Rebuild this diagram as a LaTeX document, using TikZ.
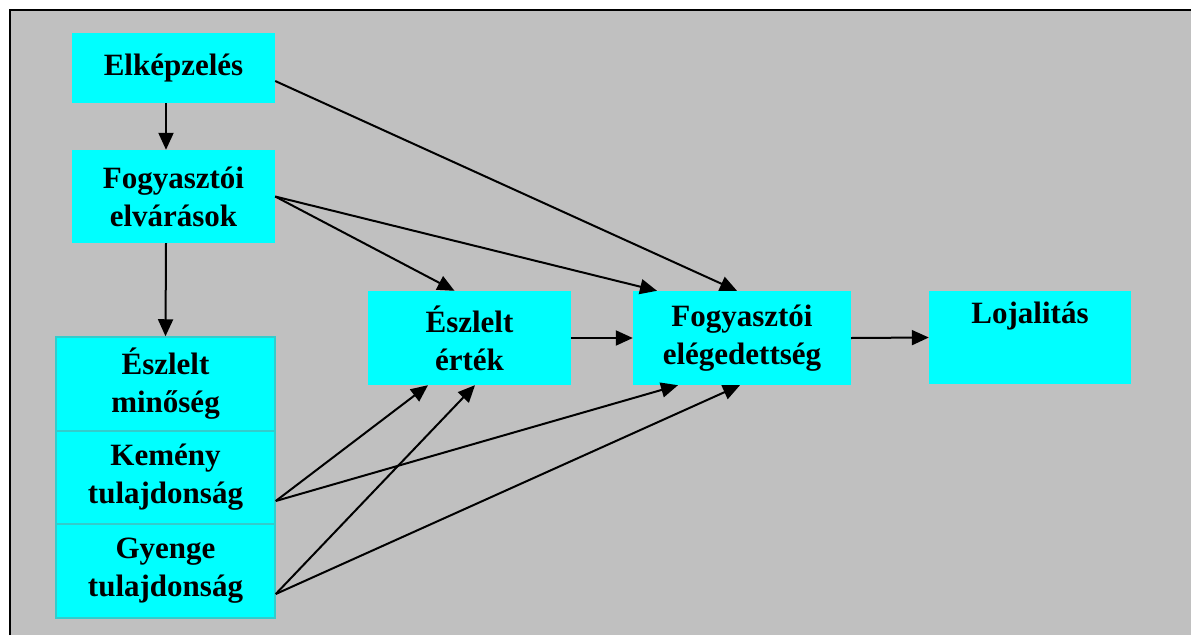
\documentclass[tikz,border=0pt]{standalone}
\usepackage{fontspec}
\setmainfont{Liberation Serif}
\usetikzlibrary{arrows.meta}
\definecolor{panel}{RGB}{192,192,192}
\definecolor{boxfill}{RGB}{0,255,255}
\definecolor{celledge}{RGB}{51,204,204}
\tikzset{
  box/.style={fill=boxfill, inner sep=0pt, align=center,
    font=\bfseries\fontsize{31}{38}\selectfont},
  cell/.style={box, draw=celledge, line width=1.5pt},
  link/.style={line width=2pt, -{Triangle[length=17pt,width=15pt]}},
}
\begin{document}
\begin{tikzpicture}[x=1pt,y=-1pt]
  \useasboundingbox (0,0) rectangle (1191,635);
  % grey panel with its top and left border
  \fill[panel] (10,10) rectangle (1191,635);
  \draw[line width=2.8pt] (10,635) -- (10,10) -- (1191,10);

  % boxes
  \node[box, minimum width=203pt, minimum height=70pt] (elk) at (173.5,68) {Elképzelés};
  \node[box, minimum width=203pt, minimum height=93pt] (elv) at (173.5,196.5) {Fogyasztói\\elvárások};
  \node[cell, minimum width=219pt, minimum height=94pt] (min) at (165.5,384) {Észlelt\\minőség};
  \node[cell, minimum width=219pt, minimum height=93pt] (kem) at (165.5,477.5) {Kemény\\tulajdonság};
  \node[cell, minimum width=219pt, minimum height=94pt] (gye) at (165.5,571) {Gyenge\\tulajdonság};
  \node[box, minimum width=203pt, minimum height=94pt] (ert) at (469.5,338) {Észlelt\\érték};
  \node[box, minimum width=218pt, minimum height=94pt] (ele) at (742,338) {Fogyasztói\\elégedettség};
  \node[box, minimum width=202pt, minimum height=93pt] (loj) at (1030,337.5) {Lojalitás\\\strut};

  % connectors
  \draw[link] ([xshift=-7.5pt]elk.south) -- ([xshift=-7.5pt]elv.north);
  \draw[link] ([xshift=-7.5pt]elv.south) -- (min.north);
  \draw[link] ([yshift=-13pt]elk.east) -- ([xshift=-5pt]ele.north);
  \draw[link] (elv.east) -- ([xshift=-15pt]ert.north);
  \draw[link] (elv.east) -- ([xshift=-85pt]ele.north);
  \draw[link] (ert.east) -- (ele.west);
  \draw[link] (ele.east) -- (loj.west);
  \draw[link] ([yshift=-23.5pt]kem.east) -- ([xshift=-41.5pt]ert.south);
  \draw[link] ([yshift=-23.5pt]kem.east) -- ([xshift=-64pt]ele.south);
  \draw[link] ([yshift=-23pt]gye.east) -- ([xshift=5.5pt]ert.south);
  \draw[link] ([yshift=-23pt]gye.east) -- ([xshift=-2pt]ele.south);
\end{tikzpicture}
\end{document}
